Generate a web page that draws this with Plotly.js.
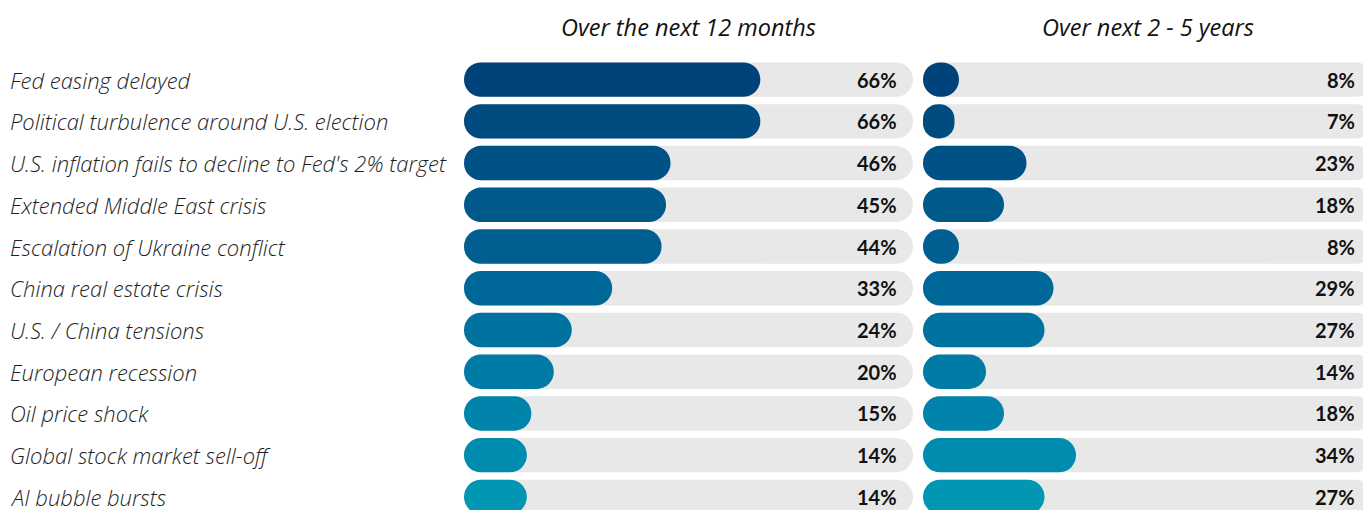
<!DOCTYPE html>
<html>
<head>
<meta charset="utf-8">
<script src="https://cdn.plot.ly/plotly-3.0.1.min.js"></script>
<style>html,body{margin:0;padding:0;background:#fff;}#chart{width:1363px;height:510px;}</style>
</head>
<body>
<div id="chart"></div>
<script>
const categories = [
  "Fed easing delayed",
  "Political turbulence around U.S. election",
  "U.S. inflation fails to decline to Fed's 2% target",
  "Extended Middle East crisis",
  "Escalation of Ukraine conflict",
  "China real estate crisis",
  "U.S. / China tensions",
  "European recession",
  "Oil price shock",
  "Global stock market sell-off",
  "AI bubble bursts"
];
const next12Months = [66, 66, 46, 45, 44, 33, 24, 20, 15, 14, 14];
const next2to5Years = [8, 7, 23, 18, 8, 29, 27, 14, 18, 34, 27];
const panelTitles = ["Over the next 12 months", "Over next 2 - 5 years"];
const trackMax = 100;

const barColors = ["#00427a","#004b80","#005286","#00598b","#005e90","#006898","#00729f","#007ba5","#0084ab","#008caf","#0096b4"];
const trackColor = "#e8e8e8";
const BW = 0.824, R = 17;

function pill(vals, color, xa) {
  return {type: 'bar', orientation: 'h', y: categories, x: vals, base: vals.map(() => 0), width: BW,
    xaxis: xa, yaxis: 'y', hoverinfo: 'skip', showlegend: false,
    marker: {color: color, cornerradius: R, line: {width: 0}}};
}

const track = categories.map(() => trackMax);
const traces = [
  pill(track, trackColor, 'x'),
  pill(track, trackColor, 'x2'),
  pill(next12Months, barColors, 'x'),
  pill(next2to5Years, barColors, 'x2')
];

const labelFont = {family: '"Open Sans", Lato, sans-serif', size: 22, color: '#1e1e1e', style: 'italic', weight: 300};
const valueFont = {family: 'Lato, "Open Sans", sans-serif', size: 20, color: '#111', weight: 700};
const titleFont = {family: '"Open Sans", Lato, sans-serif', size: 23.5, color: '#111', style: 'italic', weight: 400};

const annotations = [];
categories.forEach((c, i) => {
  annotations.push({xref: 'paper', yref: 'y', x: 8 / 1363, y: c, xanchor: 'left', yanchor: 'middle',
    text: c, showarrow: false, font: labelFont});
  annotations.push({xref: 'x', yref: 'y', x: 96.8, y: c, xanchor: 'right', yanchor: 'middle',
    text: next12Months[i] + '%', showarrow: false, font: valueFont});
  annotations.push({xref: 'x2', yref: 'y', x: 96.4, y: c, xanchor: 'right', yanchor: 'middle',
    text: next2to5Years[i] + '%', showarrow: false, font: valueFont});
});
annotations.push({xref: 'x', yref: 'paper', x: 50, y: 1.05, xanchor: 'center', yanchor: 'middle',
  text: panelTitles[0], showarrow: false, font: titleFont});
annotations.push({xref: 'x2', yref: 'paper', x: 50, y: 1.05, xanchor: 'center', yanchor: 'middle',
  text: panelTitles[1], showarrow: false, font: titleFont});

const layout = {
  width: 1363, height: 510,
  margin: {l: 0, r: 0, t: 50, b: 0},
  paper_bgcolor: '#fff', plot_bgcolor: '#fff',
  barmode: 'overlay',
  showlegend: false,
  xaxis: {domain: [464 / 1363, 913 / 1363], range: [0, 100], visible: false, fixedrange: true},
  xaxis2: {domain: [923 / 1363, 1], range: [0, (1363 - 923) / 4.5], visible: false, fixedrange: true},
  yaxis: {type: 'category', categoryorder: 'array', categoryarray: categories,
    range: [10.314, -0.709], visible: false, fixedrange: true},
  annotations: annotations
};

Plotly.newPlot('chart', traces, layout, {displayModeBar: false, staticPlot: true});
</script>
</body>
</html>
